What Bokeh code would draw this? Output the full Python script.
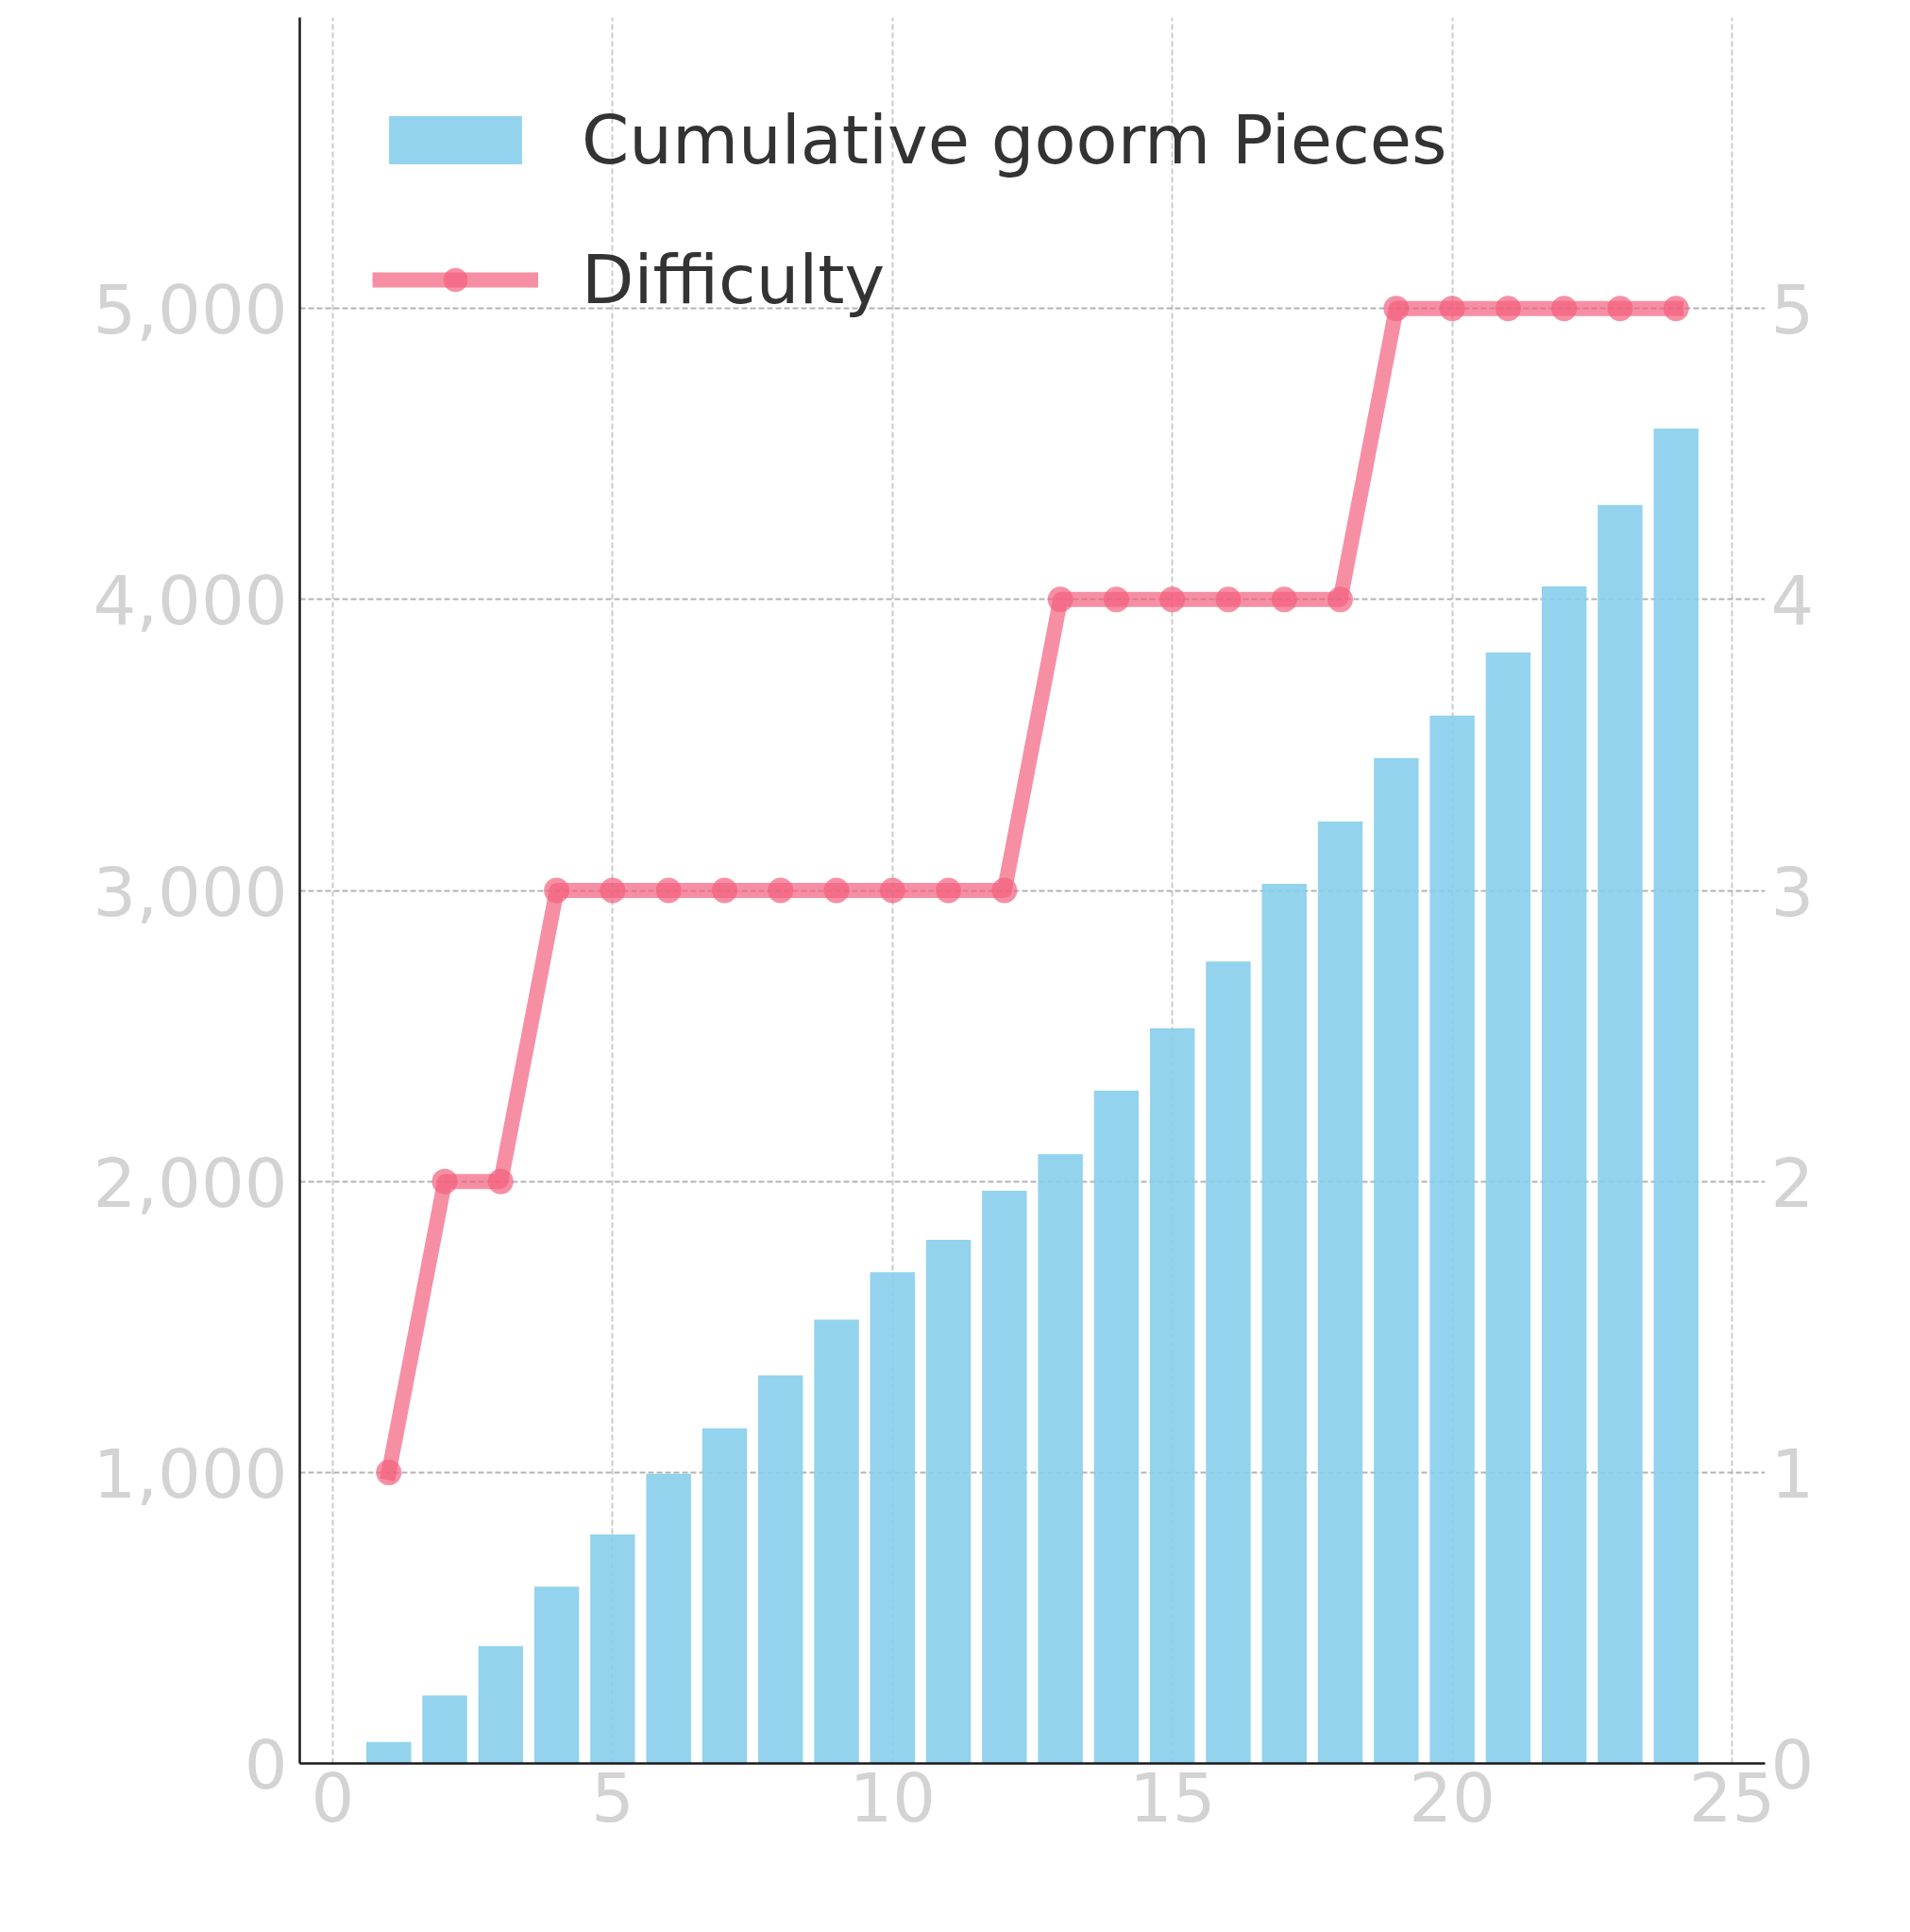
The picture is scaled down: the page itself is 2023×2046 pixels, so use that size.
from bokeh.plotting import figure
from bokeh.models import (Range1d, LinearAxis, FixedTicker, NumeralTickFormatter,
                          Legend, LegendItem, ColumnDataSource)
from bokeh.embed import file_html
from bokeh.resources import INLINE

# ---- data ----
days = list(range(1, 25))
cumulative_pieces = [74, 234, 403, 608, 787, 995, 1152, 1334, 1525, 1688, 1799, 1968,
                     2094, 2312, 2526, 2756, 3023, 3237, 3455, 3601, 3818, 4045, 4325, 4588]
difficulty = [1, 2, 2, 3, 3, 3, 3, 3, 3, 3, 3, 3, 4, 4, 4, 4, 4, 4, 5, 5, 5, 5, 5, 5]
x_ticks = [0, 5, 10, 15, 20, 25]
left_ticks = [0, 1000, 2000, 3000, 4000, 5000]
right_ticks = [0, 1, 2, 3, 4, 5]

FONT = "DejaVu Sans"
TICK_SIZE = "72px"
TICK_COLOR = "#d3d3d3"
LINE_COLOR = "#F4607D"

p = figure(output_backend="svg", toolbar_location=None,
           frame_width=1552, frame_height=1849,
           min_border_left=317, min_border_top=18,
           min_border_right=131, min_border_bottom=163,
           x_range=Range1d(-0.59, 25.59), y_range=Range1d(0, 6000))
p.outline_line_color = None
p.background_fill_color = "white"

p.extra_y_ranges = {"diff": Range1d(0, 6)}

# grids
p.xgrid.ticker = FixedTicker(ticks=x_ticks)
p.xgrid.grid_line_color = "#cccccc"
p.xgrid.grid_line_dash = "6 3"
p.xgrid.grid_line_width = 2
p.ygrid.grid_line_color = "#b3b3b3"
p.ygrid.grid_line_dash = "6 3"
p.ygrid.grid_line_width = 2

# bars
bars = p.vbar(x=days, top=cumulative_pieces, width=0.8, fill_color="#87CEEB",
              fill_alpha=0.9, line_color=None)

# difficulty line
line = p.line(days, difficulty, y_range_name="diff", line_color=LINE_COLOR,
              line_alpha=0.7, line_width=16, line_join="round", line_cap="square")
dots = p.scatter(days, difficulty, y_range_name="diff", size=27, marker="circle",
                 fill_color=LINE_COLOR, fill_alpha=0.7, line_color=None)

# legend-only line sample (no visible data; butt caps so its length matches the patch)
nan = float("nan")
legend_line = p.line(x="x", y="y", source=ColumnDataSource(dict(x=[nan], y=[nan])),
                     y_range_name="diff", line_color=LINE_COLOR, line_alpha=0.7,
                     line_width=16, line_cap="butt")

# axes
def style_axis(ax):
    ax.major_tick_line_color = None
    ax.minor_tick_line_color = None
    ax.major_label_text_font = FONT
    ax.major_label_text_font_size = TICK_SIZE
    ax.major_label_text_color = TICK_COLOR
    ax.axis_line_color = "#1a1a1a"
    ax.axis_line_width = 2.5

xa = p.xaxis[0]
style_axis(xa)
xa.ticker = FixedTicker(ticks=x_ticks)
xa.major_label_standoff = 2

ya = p.yaxis[0]
style_axis(ya)
ya.ticker = FixedTicker(ticks=left_ticks)
ya.formatter = NumeralTickFormatter(format="0,0")
ya.major_label_standoff = 7

ra = LinearAxis(y_range_name="diff", ticker=FixedTicker(ticks=right_ticks))
style_axis(ra)
ra.axis_line_color = None
ra.major_label_standoff = 0
p.add_layout(ra, "right")

legend = Legend(items=[LegendItem(label="Cumulative goorm Pieces", renderers=[bars]),
                       LegendItem(label="Difficulty", renderers=[legend_line, dots])],
                location="top_left")
legend.border_line_color = None
legend.background_fill_alpha = 0
legend.label_text_font = FONT
legend.label_text_font_size = "72px"
legend.label_text_color = "#333333"
legend.glyph_width = 176
legend.glyph_height = 64
legend.label_standoff = 46
legend.label_height = 106
legend.spacing = 42
legend.padding = 0
legend.margin = 77
p.add_layout(legend)

open("out.html", "w").write(file_html(p, INLINE))
